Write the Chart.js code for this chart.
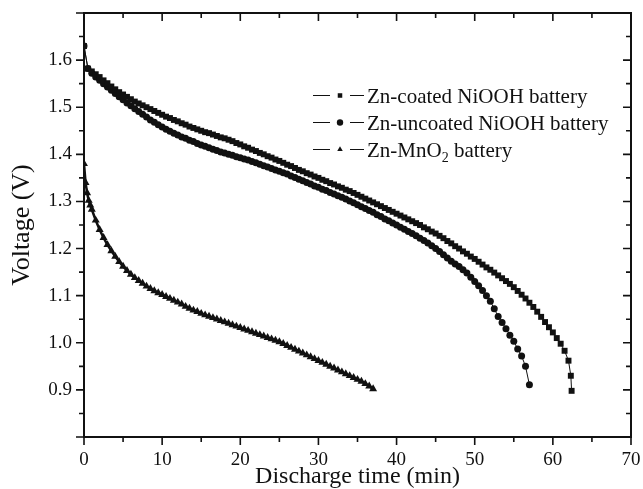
<!DOCTYPE html>
<html>
<head>
<meta charset="utf-8">
<script src="https://cdn.jsdelivr.net/npm/chart.js@4.4.1/dist/chart.umd.min.js"></script>
<style>
  html, body { margin: 0; padding: 0; background: #fff; }
  #wrap { width: 643px; height: 489px; position: relative; }
</style>
</head>
<body>
<div id="wrap"><canvas id="dischargeChart"></canvas></div>
<script>
// --- Data ---
const seriesNames = ['Zn-coated NiOOH battery', 'Zn-uncoated NiOOH battery', 'Zn-MnO₂ battery'];

const coatedTime = [
  0, 0.5, 1, 1.5, 2, 2.5, 3, 3.5, 4, 4.5,
  5, 5.5, 6, 6.5, 7, 7.5, 8, 8.5, 9, 9.5,
  10, 10.5, 11, 11.5, 12, 12.5, 13, 13.5, 14, 14.5,
  15, 15.5, 16, 16.5, 17, 17.5, 18, 18.5, 19, 19.5,
  20, 20.5, 21, 21.5, 22, 22.5, 23, 23.5, 24, 24.5,
  25, 25.5, 26, 26.5, 27, 27.5, 28, 28.5, 29, 29.5,
  30, 30.5, 31, 31.5, 32, 32.5, 33, 33.5, 34, 34.5,
  35, 35.5, 36, 36.5, 37, 37.5, 38, 38.5, 39, 39.5,
  40, 40.5, 41, 41.5, 42, 42.5, 43, 43.5, 44, 44.5,
  45, 45.5, 46, 46.5, 47, 47.5, 48, 48.5, 49, 49.5,
  50, 50.5, 51, 51.5, 52, 52.5, 53, 53.5, 54, 54.5,
  55, 55.5, 56, 56.5, 57, 57.5, 58, 58.5, 59, 59.5,
  60, 60.5, 61, 61.5, 62, 62.3, 62.4
];
const coatedVoltage = [
  1.630, 1.582, 1.576, 1.570, 1.564, 1.557, 1.551, 1.544, 1.538, 1.532,
  1.527, 1.522, 1.517, 1.512, 1.508, 1.504, 1.500, 1.496, 1.492, 1.488,
  1.484, 1.480, 1.477, 1.473, 1.470, 1.466, 1.463, 1.459, 1.456, 1.453,
  1.450, 1.447, 1.445, 1.442, 1.439, 1.436, 1.434, 1.431, 1.428, 1.424,
  1.421, 1.417, 1.414, 1.410, 1.407, 1.403, 1.400, 1.396, 1.393, 1.389,
  1.386, 1.382, 1.378, 1.375, 1.371, 1.367, 1.364, 1.360, 1.357, 1.353,
  1.350, 1.346, 1.343, 1.339, 1.336, 1.332, 1.329, 1.325, 1.322, 1.318,
  1.314, 1.310, 1.306, 1.302, 1.298, 1.294, 1.290, 1.286, 1.282, 1.278,
  1.274, 1.270, 1.266, 1.262, 1.258, 1.254, 1.250, 1.245, 1.241, 1.236,
  1.232, 1.227, 1.222, 1.216, 1.211, 1.205, 1.200, 1.194, 1.189, 1.183,
  1.178, 1.172, 1.166, 1.160, 1.155, 1.149, 1.143, 1.137, 1.131, 1.125,
  1.118, 1.110, 1.102, 1.094, 1.085, 1.076, 1.066, 1.055, 1.044, 1.033,
  1.022, 1.010, 0.998, 0.983, 0.962, 0.930, 0.898
];

const uncoatedTime = [
  0, 0.5, 1, 1.5, 2, 2.5, 3, 3.5, 4, 4.5,
  5, 5.5, 6, 6.5, 7, 7.5, 8, 8.5, 9, 9.5,
  10, 10.5, 11, 11.5, 12, 12.5, 13, 13.5, 14, 14.5,
  15, 15.5, 16, 16.5, 17, 17.5, 18, 18.5, 19, 19.5,
  20, 20.5, 21, 21.5, 22, 22.5, 23, 23.5, 24, 24.5,
  25, 25.5, 26, 26.5, 27, 27.5, 28, 28.5, 29, 29.5,
  30, 30.5, 31, 31.5, 32, 32.5, 33, 33.5, 34, 34.5,
  35, 35.5, 36, 36.5, 37, 37.5, 38, 38.5, 39, 39.5,
  40, 40.5, 41, 41.5, 42, 42.5, 43, 43.5, 44, 44.5,
  45, 45.5, 46, 46.5, 47, 47.5, 48, 48.5, 49, 49.5,
  50, 50.5, 51, 51.5, 52, 52.5, 53, 53.5, 54, 54.5,
  55, 55.5, 56, 56.5, 57
];
const uncoatedVoltage = [
  1.630, 1.582, 1.572, 1.564, 1.557, 1.550, 1.543, 1.536, 1.529, 1.522,
  1.516, 1.509, 1.503, 1.497, 1.491, 1.485, 1.479, 1.473, 1.468, 1.463,
  1.458, 1.453, 1.449, 1.445, 1.441, 1.437, 1.434, 1.430, 1.427, 1.423,
  1.420, 1.417, 1.414, 1.411, 1.408, 1.405, 1.403, 1.400, 1.398, 1.395,
  1.393, 1.390, 1.388, 1.385, 1.382, 1.379, 1.376, 1.373, 1.370, 1.367,
  1.364, 1.361, 1.358, 1.354, 1.351, 1.347, 1.344, 1.340, 1.337, 1.333,
  1.330, 1.326, 1.323, 1.319, 1.316, 1.312, 1.309, 1.305, 1.301, 1.297,
  1.293, 1.289, 1.285, 1.281, 1.277, 1.272, 1.268, 1.263, 1.259, 1.254,
  1.250, 1.245, 1.241, 1.236, 1.232, 1.227, 1.222, 1.217, 1.212, 1.206,
  1.200, 1.194, 1.187, 1.180, 1.173, 1.167, 1.162, 1.155, 1.148, 1.139,
  1.130, 1.121, 1.111, 1.100, 1.088, 1.072, 1.056, 1.043, 1.030, 1.016,
  1.003, 0.987, 0.972, 0.950, 0.911
];

const mno2Time = [
  0, 0.2, 0.4, 0.6, 0.8, 1, 1.5, 2, 2.5, 3, 3.5, 4, 4.5,
  5, 5.5, 6, 6.5, 7, 7.5, 8, 8.5, 9, 9.5,
  10, 10.5, 11, 11.5, 12, 12.5, 13, 13.5, 14, 14.5,
  15, 15.5, 16, 16.5, 17, 17.5, 18, 18.5, 19, 19.5,
  20, 20.5, 21, 21.5, 22, 22.5, 23, 23.5, 24, 24.5,
  25, 25.5, 26, 26.5, 27, 27.5, 28, 28.5, 29, 29.5,
  30, 30.5, 31, 31.5, 32, 32.5, 33, 33.5, 34, 34.5,
  35, 35.5, 36, 36.5, 37
];
const mno2Voltage = [
  1.380, 1.340, 1.318, 1.302, 1.292, 1.283, 1.260, 1.240, 1.223, 1.208, 1.195, 1.183, 1.172,
  1.162, 1.153, 1.145, 1.138, 1.132, 1.126, 1.120, 1.115, 1.110, 1.106,
  1.102, 1.098, 1.094, 1.090, 1.086, 1.082, 1.077, 1.073, 1.069, 1.066,
  1.062, 1.059, 1.056, 1.053, 1.050, 1.047, 1.044, 1.041, 1.038, 1.035,
  1.032, 1.029, 1.026, 1.023, 1.020, 1.017, 1.014, 1.011, 1.008, 1.005,
  1.002, 0.998, 0.994, 0.990, 0.986, 0.982, 0.978, 0.974, 0.970, 0.966,
  0.962, 0.958, 0.954, 0.950, 0.946, 0.942, 0.938, 0.934, 0.930, 0.926,
  0.922, 0.918, 0.913, 0.908, 0.902
];

const xTickValues = [0, 10, 20, 30, 40, 50, 60, 70];
const yTickValues = [0.9, 1.0, 1.1, 1.2, 1.3, 1.4, 1.5, 1.6];

// --- styling ---
const ink = '#111';
const serif = "'Liberation Serif', 'Times New Roman', serif";

function toPoints(t, v) {
  return t.map((x, i) => ({ x: x, y: v[i] }));
}

// frame on all four sides, outward ticks bottom/left, inward ticks top/right
const frameTicks = {
  id: 'frameTicks',
  afterDraw(chart) {
    const { ctx, chartArea: a, scales: { x, y } } = chart;
    ctx.save();
    ctx.strokeStyle = ink;
    ctx.lineWidth = 2;
    ctx.strokeRect(a.left, a.top, a.right - a.left, a.bottom - a.top);

    ctx.lineWidth = 1.6;
    ctx.beginPath();
    const xStep = (xTickValues[1] - xTickValues[0]) / 2;
    const nx = Math.round((x.max - x.min) / xStep);
    for (let i = 0; i <= nx; i++) {
      const px = x.getPixelForValue(x.min + i * xStep);
      const len = i % 2 === 0 ? 8 : 5;
      ctx.moveTo(px, a.bottom); ctx.lineTo(px, a.bottom + len);
      ctx.moveTo(px, a.top); ctx.lineTo(px, a.top + len);
    }
    const yStep = 0.05;
    const ny = Math.round((y.max - y.min) / yStep);
    for (let i = 0; i <= ny; i++) {
      const py = y.getPixelForValue(y.min + i * yStep);
      const len = i % 2 === 0 ? 8 : 5;
      ctx.moveTo(a.left, py); ctx.lineTo(a.left - len, py);
      ctx.moveTo(a.right, py); ctx.lineTo(a.right - len, py);
    }
    ctx.stroke();
    ctx.restore();
  }
};

// "—■— label" style legend inside the plot
const lineLegend = {
  id: 'lineLegend',
  afterDraw(chart) {
    const { ctx, chartArea: a } = chart;
    const x0 = a.left + 229;
    const y0 = Math.round(a.top + 82) + 0.5;
    const rowGap = 27;
    chart.data.datasets.forEach((ds, i) => {
      const yy = y0 + i * rowGap;
      ctx.save();
      ctx.strokeStyle = ink;
      ctx.fillStyle = ink;
      ctx.lineWidth = 1;
      ctx.beginPath();
      ctx.moveTo(x0, yy); ctx.lineTo(x0 + 17, yy);
      ctx.moveTo(x0 + 37, yy); ctx.lineTo(x0 + 51, yy);
      ctx.stroke();
      Chart.helpers.drawPoint(ctx, { pointStyle: ds.pointStyle, radius: 3.2, rotation: 0, borderWidth: 0 }, x0 + 27, yy);

      ctx.textBaseline = 'alphabetic';
      ctx.textAlign = 'left';
      const base = yy + 7.5;
      const parts = ds.label.split('₂');
      let tx = x0 + 54;
      parts.forEach((p, k) => {
        ctx.font = '21px ' + serif;
        ctx.fillText(p, tx, base);
        tx += ctx.measureText(p).width;
        if (k < parts.length - 1) {
          ctx.font = '14px ' + serif;
          ctx.fillText('2', tx, base + 5);
          tx += ctx.measureText('2').width;
        }
      });
      ctx.restore();
    });
  }
};

const ctx = document.getElementById('dischargeChart').getContext('2d');
new Chart(ctx, {
  type: 'line',
  data: {
    datasets: [
      {
        label: seriesNames[0],
        data: toPoints(coatedTime, coatedVoltage),
        pointStyle: 'rect',
        pointRadius: 4.2,
        borderColor: ink,
        backgroundColor: ink,
        pointBackgroundColor: ink,
        pointBorderWidth: 0,
        borderWidth: 1
      },
      {
        label: seriesNames[1],
        data: toPoints(uncoatedTime, uncoatedVoltage),
        pointStyle: 'circle',
        pointRadius: 3.5,
        borderColor: ink,
        backgroundColor: ink,
        pointBackgroundColor: ink,
        pointBorderWidth: 0,
        borderWidth: 1
      },
      {
        label: seriesNames[2],
        data: toPoints(mno2Time, mno2Voltage),
        pointStyle: 'triangle',
        pointRadius: 4.6,
        borderColor: ink,
        backgroundColor: ink,
        pointBackgroundColor: ink,
        pointBorderWidth: 0,
        borderWidth: 2.5
      }
    ]
  },
  options: {
    responsive: true,
    maintainAspectRatio: false,
    animation: false,
    layout: { padding: { top: 13, right: 12, left: 0, bottom: 0 } },
    plugins: {
      legend: { display: false },
      tooltip: { enabled: false }
    },
    scales: {
      x: {
        type: 'linear',
        min: 0,
        max: 70,
        afterBuildTicks: s => { s.ticks = xTickValues.map(v => ({ value: v })); },
        afterFit: s => { s.height = 52; s.paddingLeft = 0; s.paddingRight = 0; },
        grid: { display: false, drawTicks: false },
        border: { display: false },
        ticks: { font: { family: serif, size: 19 }, color: ink, padding: 12, maxRotation: 0 },
        title: {
          display: true,
          text: 'Discharge time (min)',
          font: { family: serif, size: 24, lineHeight: 1 },
          color: ink,
          padding: 0
        }
      },
      y: {
        min: 0.8,
        max: 1.7,
        afterBuildTicks: s => { s.ticks = yTickValues.map(v => ({ value: v })); },
        afterFit: s => { s.width = 84; s.paddingTop = 0; s.paddingBottom = 0; },
        grid: { display: false, drawTicks: false },
        border: { display: false },
        ticks: {
          font: { family: serif, size: 19 },
          color: ink,
          padding: 12,
          callback: v => Number(v).toFixed(1)
        },
        title: {
          display: true,
          text: 'Voltage (V)',
          font: { family: serif, size: 26, lineHeight: 1 },
          color: ink,
          padding: { top: 9, bottom: 0 }
        }
      }
    }
  },
  plugins: [frameTicks, lineLegend]
});
</script>
</body>
</html>
